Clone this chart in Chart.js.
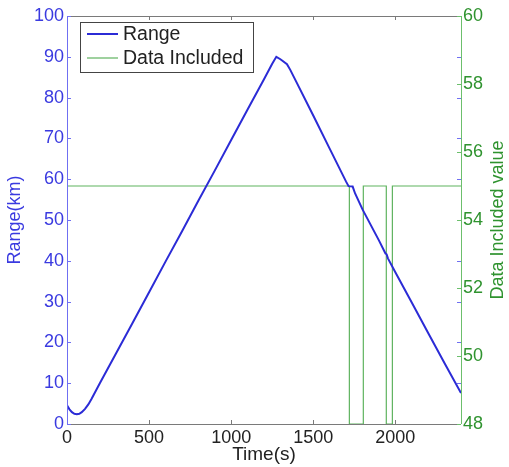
<!DOCTYPE html>
<html><head><meta charset="utf-8">
<script src="https://cdn.jsdelivr.net/npm/chart.js@4/dist/chart.umd.min.js"></script>
<style>html,body{margin:0;padding:0;background:#fff;} #wrap{width:509px;height:467px;}</style>
</head><body><div id="wrap"><canvas id="c" width="509" height="467"></canvas></div>
<script>
const timeRange = [0,15,30,45,60,75,90,110,130,150,200,300,400,500,600,700,800,900,1000,1100,1200,1250,1275,1300,1340,1360,1400,1500,1600,1700,1715,1740,1755,1800,1900,1940,1947,1955,2000,2100,2200,2300,2400];
const rangeKm = [4.6,3.6,2.9,2.5,2.4,2.5,2.9,3.7,4.8,6.2,10.0,17.4,24.8,32.3,39.8,47.2,54.7,62.1,69.6,77.1,84.5,88.3,90.0,89.4,88.2,86.8,83.6,75.6,67.5,59.4,58.3,58.2,56.5,52.6,45.0,41.8,41.6,40.6,37.2,29.8,22.3,14.9,7.6];
const timeIncl = [0,1720,1720,1805,1805,1945,1945,1982,1982,2400];
const inclValue = [55,55,48,48,55,55,48,48,55,55];
const xTicks = [0,500,1000,1500,2000];
const yTicks = [0,10,20,30,40,50,60,70,80,90,100];
const y2Ticks = [48,50,52,54,56,58,60];
const seriesLabels = ['Range','Data Included'];

const BLUE = '#2b2bd6', BLUE_TXT = '#3a3ae0', BLUE_AX = '#6f6ff2';
const GREEN = '#5fb35f', GREEN_TXT = '#2f932f', GREEN_AX = '#6cbf6c';
const FONT = 'Liberation Sans, Arial, Helvetica, sans-serif';

const axesPlugin = {
  id: 'matlabAxes',
  afterDatasetsDraw(chart) {
    const {ctx, chartArea: a, scales} = chart;
    const tl = 4;
    ctx.save();
    ctx.lineWidth = 1;
    ctx.strokeStyle = '#7a7a7a';
    ctx.beginPath();
    ctx.moveTo(a.left, a.top + 0.5); ctx.lineTo(a.right, a.top + 0.5);
    ctx.moveTo(a.left, a.bottom + 0.5); ctx.lineTo(a.right, a.bottom + 0.5);
    xTicks.forEach(v => {
      const px = Math.round(scales.x.getPixelForValue(v)) + 0.5;
      ctx.moveTo(px, a.bottom); ctx.lineTo(px, a.bottom - tl);
      ctx.moveTo(px, a.top); ctx.lineTo(px, a.top + tl);
    });
    ctx.stroke();
    ctx.strokeStyle = BLUE_AX;
    ctx.beginPath();
    ctx.moveTo(a.left + 0.5, a.top); ctx.lineTo(a.left + 0.5, a.bottom);
    yTicks.forEach(v => {
      const py = Math.round(scales.y.getPixelForValue(v)) + 0.5;
      ctx.moveTo(a.left, py); ctx.lineTo(a.left + tl, py);
      ctx.moveTo(a.right, py); ctx.lineTo(a.right - tl, py);
    });
    ctx.stroke();
    ctx.strokeStyle = GREEN_AX;
    ctx.beginPath();
    ctx.moveTo(a.right + 0.5, a.top); ctx.lineTo(a.right + 0.5, a.bottom);
    y2Ticks.forEach(v => {
      const py = Math.round(scales.y2.getPixelForValue(v)) + 0.5;
      ctx.moveTo(a.right, py); ctx.lineTo(a.right - tl, py);
    });
    ctx.stroke();
    ctx.restore();
  },
  afterDraw(chart) {
    const {ctx, chartArea: a} = chart;
    const t = chart.options.scales.y2.title;
    ctx.save();
    ctx.translate(498, (a.top + a.bottom) / 2);
    ctx.rotate(-Math.PI / 2);
    ctx.font = '18px ' + FONT;
    ctx.fillStyle = GREEN_TXT;
    ctx.textAlign = 'center';
    ctx.textBaseline = 'middle';
    ctx.fillText(t.text, 0, 0);
    ctx.restore();
    const bx = a.left + 13, by = a.top + 6, bw = 173, bh = 50;
    ctx.save();
    ctx.fillStyle = '#fff';
    ctx.fillRect(bx, by, bw, bh);
    ctx.strokeStyle = '#444';
    ctx.lineWidth = 1;
    ctx.strokeRect(bx + 0.5, by + 0.5, bw, bh);
    ctx.font = '19.5px ' + FONT;
    ctx.textBaseline = 'middle';
    ctx.textAlign = 'left';
    chart.data.datasets.forEach((ds, i) => {
      const yy = by + 12 + i * 24;
      ctx.strokeStyle = ds.borderColor;
      ctx.lineWidth = ds.borderWidth;
      ctx.beginPath();
      ctx.moveTo(bx + 7, yy); ctx.lineTo(bx + 38, yy);
      ctx.stroke();
      ctx.fillStyle = '#222';
      ctx.fillText(ds.label, bx + 43, yy + 1);
    });
    ctx.restore();
  }
};

new Chart(document.getElementById('c'), {
  type: 'line',
  data: {
    datasets: [
      { label: seriesLabels[0], data: timeRange.map((t, i) => ({x: t, y: rangeKm[i]})), yAxisID: 'y',
        borderColor: BLUE, borderWidth: 2, pointRadius: 0, tension: 0, fill: false },
      { label: seriesLabels[1], data: timeIncl.map((t, i) => ({x: t, y: inclValue[i]})), yAxisID: 'y2',
        borderColor: GREEN, borderWidth: 1.2, pointRadius: 0, tension: 0, fill: false }
    ]
  },
  options: {
    responsive: false, animation: false, devicePixelRatio: 1,
    layout: { padding: { top: 16, left: 0, right: 0, bottom: 0 } },
    plugins: { legend: { display: false }, tooltip: { enabled: false } },
    scales: {
      x: {
        type: 'linear', min: 0, max: 2400,
        afterBuildTicks: s => { s.ticks = xTicks.map(v => ({value: v})); },
        afterFit: s => { s.height = 43; },
        grid: { display: false, drawTicks: false }, border: { display: false },
        ticks: { color: '#222', font: { family: FONT, size: 18 }, padding: 3, maxRotation: 0, autoSkip: false,
                 callback: v => String(v) },
        title: { display: true, text: 'Time(s)', color: '#222', font: { family: FONT, size: 19 }, padding: { top: 0, bottom: 1 } }
      },
      y: {
        position: 'left', min: 0, max: 100,
        afterBuildTicks: s => { s.ticks = yTicks.map(v => ({value: v})); },
        afterFit: s => { s.width = 67; },
        grid: { display: false, drawTicks: false }, border: { display: false },
        ticks: { color: BLUE_TXT, font: { family: FONT, size: 18 }, padding: 3, autoSkip: false,
                 callback: v => String(v) },
        title: { display: true, text: 'Range(km)', color: BLUE_TXT, font: { family: FONT, size: 18 }, padding: { top: 4, bottom: 0 } }
      },
      y2: {
        position: 'right', min: 48, max: 60,
        afterBuildTicks: s => { s.ticks = y2Ticks.map(v => ({value: v})); },
        afterFit: s => { s.width = 48; },
        grid: { display: false, drawTicks: false }, border: { display: false },
        ticks: { color: GREEN_TXT, font: { family: FONT, size: 18 }, padding: 2, autoSkip: false,
                 callback: v => String(v) },
        title: { display: false, text: 'Data Included value', color: GREEN_TXT }
      }
    }
  },
  plugins: [axesPlugin]
});
</script>
</body></html>
